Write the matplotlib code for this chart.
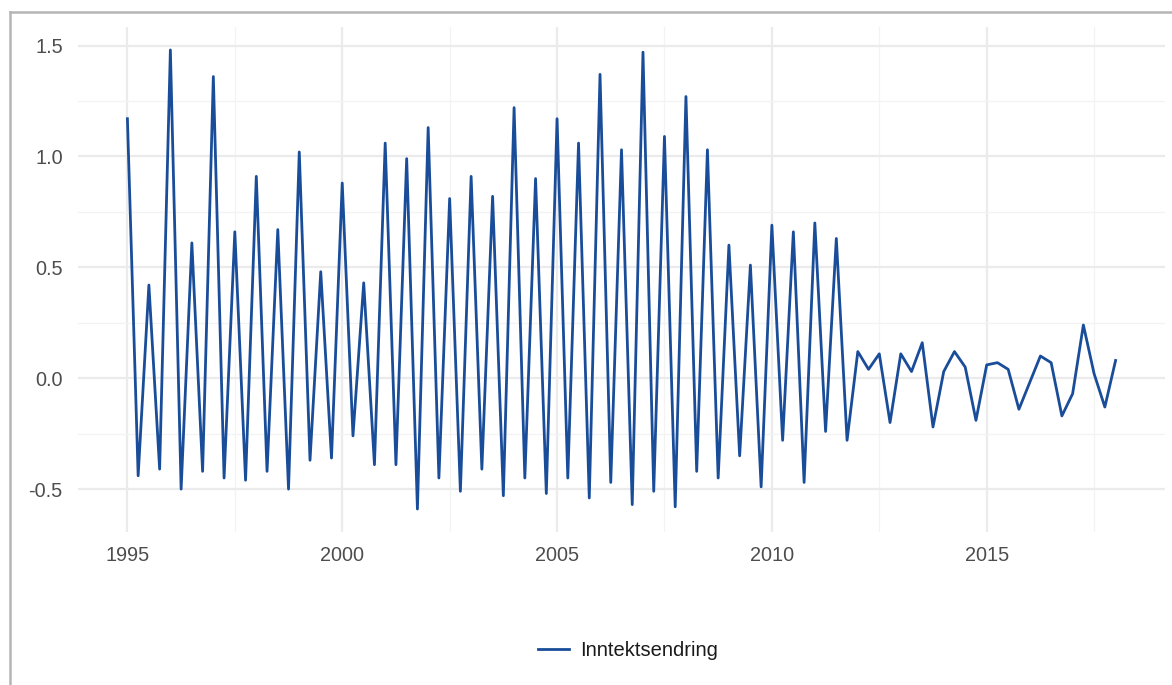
import numpy as np
import matplotlib
matplotlib.use("Agg")
import matplotlib.pyplot as plt
from matplotlib.lines import Line2D

# Quarterly income change, 1995Q1 - 2018Q1
start_year = 1995
values = [
    1.17, -0.44, 0.42, -0.41, 1.48, -0.50, 0.61, -0.42, 1.36, -0.45,
    0.66, -0.46, 0.91, -0.42, 0.67, -0.50, 1.02, -0.37, 0.48, -0.36,
    0.88, -0.26, 0.43, -0.39, 1.06, -0.39, 0.99, -0.59, 1.13, -0.45,
    0.81, -0.51, 0.91, -0.41, 0.82, -0.53, 1.22, -0.45, 0.90, -0.52,
    1.17, -0.45, 1.06, -0.54, 1.37, -0.47, 1.03, -0.57, 1.47, -0.51,
    1.09, -0.58, 1.27, -0.42, 1.03, -0.45, 0.60, -0.35, 0.51, -0.49,
    0.69, -0.28, 0.66, -0.47, 0.70, -0.24, 0.63, -0.28, 0.12, 0.04,
    0.11, -0.20, 0.11, 0.03, 0.16, -0.22, 0.03, 0.12, 0.05, -0.19,
    0.06, 0.07, 0.04, -0.14, -0.02, 0.10, 0.07, -0.17, -0.07, 0.24,
    0.02, -0.13, 0.08,
]
series_label = "Inntektsendring"
x_ticks = [1995, 2000, 2005, 2010, 2015]
y_ticks = [-0.5, 0.0, 0.5, 1.0, 1.5]
y_ticklabels = ["-0.5", "0.0", "0.5", "1.0", "1.5"]

dates = start_year + np.arange(len(values)) * 0.25

plt.rcParams['font.family'] = ['Liberation Sans', 'DejaVu Sans']

W, H = 1172, 685
fig = plt.figure(figsize=(W / 100, H / 100), dpi=100)
fig.patch.set_facecolor('white')

ax = fig.add_axes([78 / W, 1 - 532 / H, (1165 - 78) / W, (532 - 27) / H])
line_color = '#1a4d99'
ax.plot(dates, values, color=line_color, lw=2.0, solid_joinstyle='round',
        label=series_label)

# ggplot-like expansion
xr = dates[-1] - dates[0]
ax.set_xlim(dates[0] - 0.05 * xr, dates[-1] + 0.05 * xr)
yr = max(values) - min(values)
ax.set_ylim(min(values) - 0.05 * yr, max(values) + 0.05 * yr)

ax.set_xticks(x_ticks)
ax.set_xticklabels([str(t) for t in x_ticks])
ax.set_yticks(y_ticks)
ax.set_yticklabels(y_ticklabels)
ax.set_xticks(np.arange(1997.5, 2019, 5), minor=True)
ax.set_yticks([-0.25, 0.25, 0.75, 1.25], minor=True)

ax.grid(True, which='major', color='#ebebeb', lw=1.6)
ax.grid(True, which='minor', color='#f3f3f3', lw=0.9)
ax.set_axisbelow(True)
for s in ax.spines.values():
    s.set_visible(False)
ax.tick_params(which='both', length=0)
ax.tick_params(axis='both', labelsize=14.3, labelcolor='#4d4d4d')
ax.tick_params(axis='y', pad=11)
ax.tick_params(axis='x', pad=10)

# legend at bottom
handle = Line2D([0], [0], color=line_color, lw=2.0)
fig.legend([handle], [series_label], loc='center',
           bbox_to_anchor=(628 / W, 1 - 651 / H), frameon=False,
           fontsize=14.5, handlelength=1.55, handletextpad=0.55,
           labelcolor='#1a1a1a')

# gray frame lines (top and left)
fig.add_artist(Line2D([10 / W, 1], [1 - 12 / H, 1 - 12 / H], color='#b5b5b5',
                      lw=1.8, transform=fig.transFigure))
fig.add_artist(Line2D([10 / W, 10 / W], [0, 1 - 12 / H], color='#b5b5b5',
                      lw=1.8, transform=fig.transFigure))

fig.savefig('out.png', dpi=100, facecolor='white')
